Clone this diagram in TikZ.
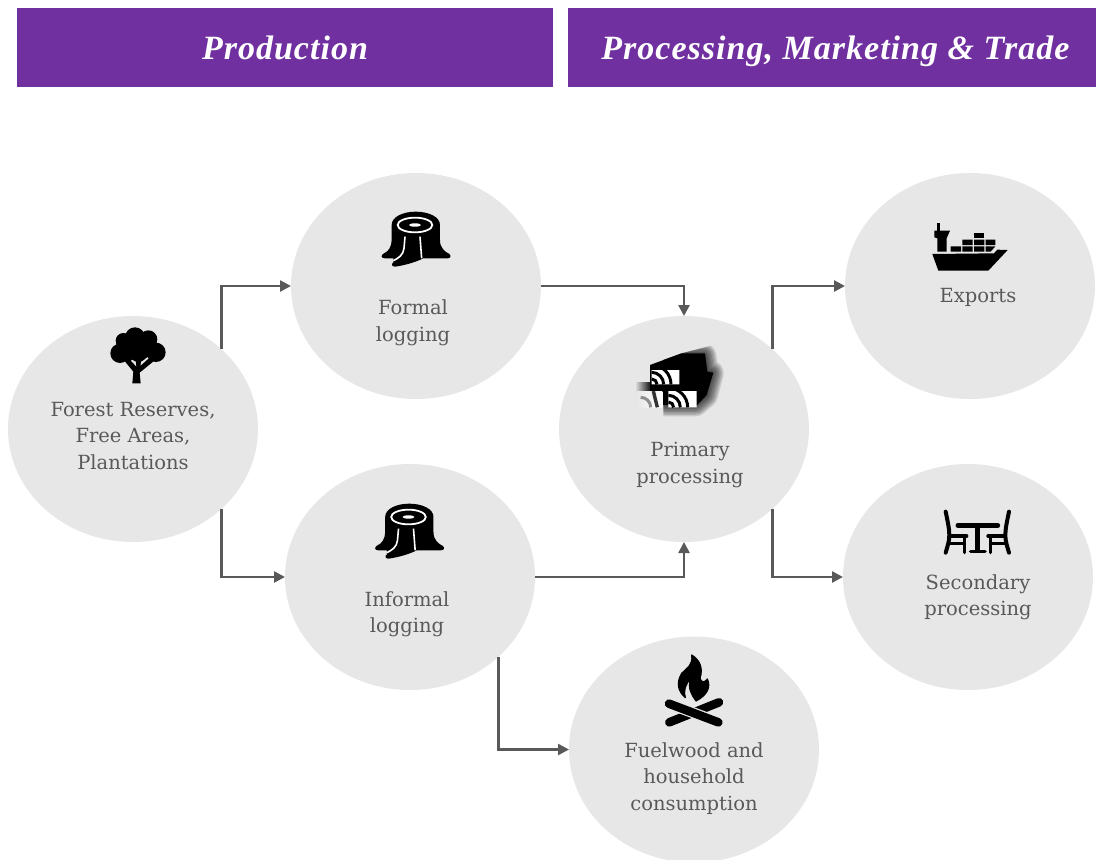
\documentclass[tikz,border=0pt]{standalone}
\usepackage{fontspec}
\usetikzlibrary{shapes.geometric,arrows.meta}
\setmainfont{DejaVu Serif}
\newfontfamily\headfont[LetterSpace=3]{Liberation Serif}
\definecolor{purp}{HTML}{7030A0}
\definecolor{bub}{HTML}{E7E7E7}
\definecolor{ink}{HTML}{595959}
\tikzset{
  bubble/.style={ellipse,fill=bub,minimum width=250pt,minimum height=226pt,inner sep=0pt,outer sep=0pt},
  head/.style={fill=purp,text=white,inner sep=0pt,minimum height=79pt,font=\headfont\fontsize{34}{38}\selectfont\bfseries\itshape},
  lbl/.style={text=ink,align=center,inner sep=0pt,font=\fontsize{19.5}{26.5}\selectfont},
  link/.style={draw=ink,line width=2.5pt,-{Triangle[length=11pt,width=11pt]}},
  zoomed/.style={scale=0.3333},
  ic/.style={fill=black,draw=none},
  icl/.style={draw=black,line cap=round,line join=round}
}
\newcommand{\stumpicon}[2]{%
\begin{scope}[shift={(#1,#2)},zoomed]
\fill[ic] (95,105) .. controls (95,80) and (130,65) .. (167,65) .. controls (205,65) and (240,80) .. (240,105)
 -- (240,150) .. controls (240,175) and (255,185) .. (268,192) .. controls (275,197) and (272,205) .. (262,205)
 -- (190,205) .. controls (170,215) and (140,225) .. (105,230) .. controls (95,230) and (93,222) .. (100,218)
 -- (100,205) -- (75,205) .. controls (62,205) and (62,195) .. (72,190) .. controls (85,185) and (95,170) .. (95,150) -- cycle;
\draw[white,line width=1.8pt] (165,105) ellipse (52 and 22);
\fill[white] (165,105) ellipse (18 and 5);
\draw[white,line width=1.6pt] (135,140) -- (132,175) .. controls (130,195) and (115,205) .. (100,212);
\draw[white,line width=1.6pt] (180,140) -- (185,205);
\end{scope}}
\begin{document}
\begin{tikzpicture}[x=1pt,y=-1pt]
\useasboundingbox (0,0) rectangle (1096,860);
\node[head,minimum width=536pt] (hp) at (285,47.5) {};
\node[head,minimum width=528pt] (hm) at (832,47.5) {};
\node[head,fill=none,minimum height=0pt,anchor=base] (hpt) at (285,59) {Production};
\node[head,fill=none,minimum height=0pt,anchor=base] (hmt) at (835.5,59) {Processing, Marketing \& Trade};
\node[bubble] (forest) at (133,429) {};
\node[bubble] (formal) at (416,286) {};
\node[bubble] (informal) at (410,577) {};
\node[bubble] (primary) at (684,429) {};
\node[bubble] (exports) at (970,286) {};
\node[bubble] (secondary) at (968,577) {};
\begin{scope}
\clip (0,0) rectangle (1096,860);
\node[bubble] (fuel) at (694,749.5) {};
\end{scope}
\draw[link] (forest.north east) |- (formal.west);
\draw[link] (forest.south east) |- (informal.west);
\draw[link] (formal.east) -| (primary.north);
\draw[link] (informal.east) -| (primary.south);
\draw[link] (primary.north east) |- (exports.west);
\draw[link] (primary.south east) |- (secondary.west);
\draw[link] (informal.south east) |- (fuel.west);
\node[lbl] (t1) at (133,436) {Forest Reserves,\\Free Areas,\\Plantations};
\node[lbl] (t2) at (413,323) {Formal\\logging};
\node[lbl] (t3) at (407,614) {Informal\\logging};
\node[lbl] (t4) at (690,465) {Primary\\processing};
\node[lbl] (t5) at (978,297) {Exports};
\node[lbl] (t6) at (978,597) {Secondary\\processing};
\node[lbl] (t7) at (694,778.5) {Fuelwood and\\household\\consumption};
% tree
\begin{scope}[shift={(95,320)},zoomed]
\fill[ic] (120,52) circle (30) (85,62) circle (23) (160,58) circle (27) (75,100) circle (29) (183,97) circle (29) (130,85) circle (38) (165,85) circle (27) (95,95) circle (30) (130,100) circle (26);
\fill[ic] (112,190) -- (137,190) -- (134,158) -- (178,122) -- (165,112) -- (136,138) -- (140,115) -- (122,115) -- (124,140) -- (100,115) -- (88,122) -- (115,155) -- cycle;
\end{scope}
\stumpicon{360}{190}
\stumpicon{353.5}{482}
% primary processing
\begin{scope}[shift={(620,340)},zoomed]
\begin{scope}
\clip (185,40) -- (340,0) -- (340,240) -- (130,240) -- (130,60) -- cycle;
\foreach \w in {26,23,20,17,14,11,8,5,2}{
\filldraw[black,opacity=.13,line width=\w pt,line join=round] (185,48) -- (250,48) -- (258,98) -- (272,100) -- (255,165) -- (226,190) -- (135,190) -- (135,60) -- cycle;}
\end{scope}
\shade[left color=bub,right color=black] (45,128) -- (95,128) -- (95,200) -- (45,200) -- cycle;
\fill[ic] (90,75) -- (185,40) -- (255,40) -- (262,95) -- (280,98) -- (260,165) -- (232,195) -- (90,195) -- cycle;
\shade[left color=bub,right color=white] (50,153) rectangle (127,202);
\fill[white] (95,90) rectangle (178,133) (145,153) rectangle (230,202);
\foreach \ox/\oy/\wd in {95/133/83,145/202/85}{
\begin{scope}
\clip (\ox,\oy) rectangle +(\wd,-50);
\draw[black,line width=3pt] (\ox,\oy-16) arc (-90:0:16);
\draw[black,line width=3pt] (\ox,\oy-36) arc (-90:0:36);
\draw[black,line width=3pt] (\ox,\oy-58) arc (-90:0:58);
\end{scope}}
\begin{scope}
\clip (50,153) rectangle (127,202);
\draw[black!45,line width=3pt] (62,172) arc (-90:0:30);
\draw[black,line width=3.4pt,opacity=.8] (100,153) -- (112,202);
\end{scope}
\end{scope}
% ship
\begin{scope}[shift={(920,210)},zoomed]
\fill[ic] (37,132) -- (222,130) -- (232,119) -- (263,120) -- (205,182) -- (55,182) -- cycle;
\fill[ic] (52,40) rectangle (59,62);
\fill[ic] (43,62) -- (90,62) -- (80,85) -- (80,125) -- (52,125) -- (52,85) -- (43,82) -- cycle;
\fill[ic] (92,109) rectangle (123,125) (127,109) rectangle (158,125) (162,109) rectangle (193,125) (197,109) -- (226,109) -- (212,125) -- (197,125) -- cycle;
\fill[ic] (127,89) rectangle (158,105) (162,89) rectangle (193,105) (197,89) rectangle (226,105);
\fill[ic] (162,69) rectangle (193,85);
\end{scope}
% table and chairs
\begin{scope}[shift={(930,500)},zoomed]
\foreach \s/\o in {1/0,-1/284}{
\begin{scope}[shift={(\o,0)},xscale=\s]
\draw[icl,line width=4pt] (47,35) .. controls (52,60) and (58,85) .. (58,105) .. controls (58,125) and (52,140) .. (47,158);
\draw[icl,line width=3.4pt] (58,108) -- (110,108);
\draw[icl,line width=2.4pt] (58,130) -- (103,130);
\draw[icl,line width=3.2pt] (103,108) -- (103,158);
\end{scope}}
\draw[icl,line width=5pt] (84,76) -- (203,76);
\draw[icl,line width=5pt,line cap=butt] (143,76) -- (143,155);
\draw[icl,line width=3.6pt] (122,155) -- (165,155);
\end{scope}
% fire
\begin{scope}[shift={(650,645)},zoomed]
\filldraw[ic,draw=black,line width=1.2pt,line join=round] (125,30) .. controls (150,45) and (160,70) .. (150,100) .. controls (155,115) and (165,112) .. (172,102)
 .. controls (183,125) and (173,150) .. (138,168) .. controls (125,150) and (112,130) .. (122,100)
 .. controls (105,120) and (100,140) .. (106,158) .. controls (85,140) and (77,115) .. (95,85)
 .. controls (110,70) and (130,60) .. (125,30) -- cycle;
\draw[icl,line width=8.6pt] (58,232) -- (207,172);
\draw[bub,line width=11pt] (80,185) -- (180,222);
\draw[icl,line width=8.6pt] (57,176) -- (205,232);
\end{scope}
\end{tikzpicture}
\end{document}
